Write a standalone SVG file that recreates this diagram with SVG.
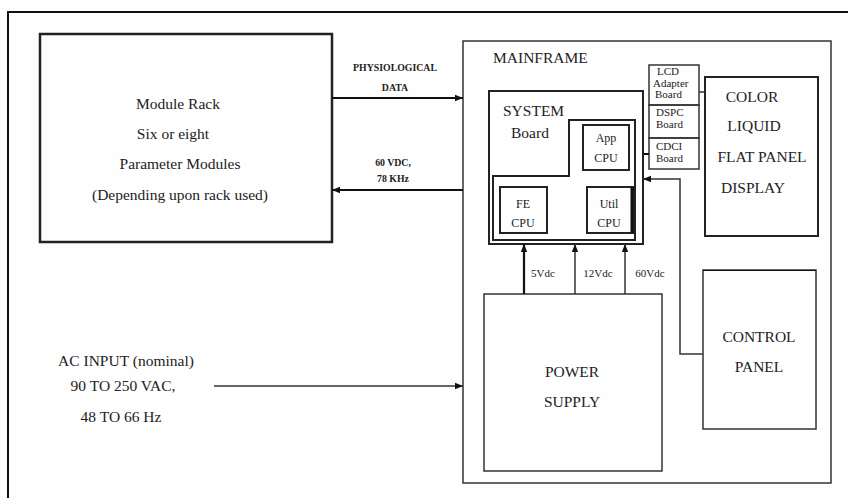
<svg xmlns="http://www.w3.org/2000/svg" width="848" height="498" viewBox="0 0 848 498">
<defs>
<style>
text{font-family:"Liberation Serif","Times New Roman",serif;fill:#222;}
.big{font-size:15.5px;}
.mid{font-size:12px;}
.sm{font-size:11px;}
.lbl{font-size:9.8px;font-weight:bold;}
.box{fill:none;stroke:#333;stroke-width:1.5;}
.thick{fill:none;stroke:#222;stroke-width:2.5;}
.med{fill:none;stroke:#222;stroke-width:2;}
.ln{fill:none;stroke:#333;stroke-width:1.5;}
</style>
<marker id="ah" viewBox="0 0 10 10" refX="10" refY="5" markerWidth="8" markerHeight="8" markerUnits="userSpaceOnUse" orient="auto">
<path d="M0,1 L10,5 L0,9 Z" fill="#111"/>
</marker>
</defs>
<rect width="848" height="498" fill="#fefefe"/>
<path d="M8,498 V12 H848" fill="none" stroke="#111" stroke-width="2"/>

<g id="module-rack">
<rect class="thick" x="40" y="34" width="292" height="208"/>
<text class="big" x="178" y="109" text-anchor="middle">Module Rack</text>
<text class="big" x="173" y="139" text-anchor="middle">Six or eight</text>
<text class="big" x="180" y="169" text-anchor="middle">Parameter Modules</text>
<text class="big" x="180" y="200" text-anchor="middle">(Depending upon rack used)</text>
</g>

<g id="mainframe">
<rect class="box" x="463" y="41" width="368" height="442"/>
<text class="big" x="493" y="63">MAINFRAME</text>
</g>

<g id="system-board">
<rect class="med" x="489" y="91" width="154" height="153"/>
<path class="med" d="M493,176 H569 V120 H635 V240 H493 Z"/>
<text class="big" x="503" y="116">SYSTEM</text>
<text class="big" x="511" y="138">Board</text>
</g>

<g id="app-cpu">
<rect class="med" x="583" y="125" width="46" height="45"/>
<text class="mid" x="606" y="142" text-anchor="middle">App</text>
<text class="mid" x="606" y="162" text-anchor="middle">CPU</text>
</g>

<g id="fe-cpu">
<rect class="med" x="500" y="187" width="47" height="46"/>
<text class="mid" x="523" y="208" text-anchor="middle">FE</text>
<text class="mid" x="523" y="227" text-anchor="middle">CPU</text>
</g>

<g id="util-cpu">
<rect class="med" x="587" y="187" width="46" height="46"/>
<line x1="632" y1="187" x2="632" y2="233" stroke="#111" stroke-width="3"/>
<text class="mid" x="609" y="208" text-anchor="middle">Util</text>
<text class="mid" x="609" y="227" text-anchor="middle">CPU</text>
</g>

<g id="lcd-adapter">
<rect class="box" x="649" y="65" width="50" height="40"/>
<text class="sm" x="657" y="75">LCD</text>
<text class="sm" x="653" y="87">Adapter</text>
<text class="sm" x="655" y="98">Board</text>
</g>

<g id="dspc-board">
<rect class="box" x="649" y="105" width="50" height="33"/>
<text class="sm" x="656" y="116">DSPC</text>
<text class="sm" x="656" y="128">Board</text>
</g>

<g id="cdci-board">
<rect class="box" x="649" y="138" width="50" height="31"/>
<text class="sm" x="656" y="150">CDCI</text>
<text class="sm" x="656" y="162">Board</text>
</g>

<g id="display">
<rect class="med" x="705" y="77" width="113" height="159"/>
<text class="big" x="752" y="102" text-anchor="middle">COLOR</text>
<text class="big" x="754" y="131" text-anchor="middle">LIQUID</text>
<text class="big" x="762" y="162" text-anchor="middle">FLAT PANEL</text>
<text class="big" x="753" y="193" text-anchor="middle">DISPLAY</text>
</g>

<g id="power-supply">
<rect class="box" x="484" y="294" width="178" height="177"/>
<text class="big" x="572" y="377" text-anchor="middle">POWER</text>
<text class="big" x="572" y="407" text-anchor="middle">SUPPLY</text>
</g>

<g id="control-panel">
<rect class="box" x="703" y="270" width="113" height="159"/>
<line x1="703" y1="270.5" x2="816" y2="270.5" stroke="#111" stroke-width="1"/>
<text class="big" x="759" y="342" text-anchor="middle">CONTROL</text>
<text class="big" x="759" y="372" text-anchor="middle">PANEL</text>
</g>

<g id="ac-input">
<text class="big" x="126" y="366" text-anchor="middle">AC INPUT (nominal)</text>
<text class="big" x="123" y="391" text-anchor="middle">90 TO 250 VAC,</text>
<text class="big" x="121" y="422" text-anchor="middle">48 TO 66 Hz</text>
</g>

<g id="connectors">
<line x1="332" y1="98" x2="463" y2="98" stroke="#111" stroke-width="2" marker-end="url(#ah)"/>
<text class="lbl" x="395" y="71" text-anchor="middle">PHYSIOLOGICAL</text>
<text class="lbl" x="395" y="91" text-anchor="middle">DATA</text>
<line x1="463" y1="190" x2="332" y2="190" stroke="#111" stroke-width="2" marker-end="url(#ah)"/>
<text class="lbl" x="393" y="166" text-anchor="middle">60 VDC,</text>
<text class="lbl" x="393" y="182" text-anchor="middle">78 KHz</text>
<line x1="214" y1="386" x2="463" y2="386" stroke="#333" stroke-width="1.5" marker-end="url(#ah)"/>
<line x1="524" y1="294" x2="524" y2="244" stroke="#111" stroke-width="2.2" marker-end="url(#ah)"/>
<line x1="575" y1="294" x2="575" y2="244" stroke="#333" stroke-width="1.5" marker-end="url(#ah)"/>
<line x1="625" y1="294" x2="625" y2="244" stroke="#333" stroke-width="1.5" marker-end="url(#ah)"/>
<text class="lbl" x="543" y="277" text-anchor="middle" style="font-weight:normal;font-size:11px">5Vdc</text>
<text class="lbl" x="598" y="277" text-anchor="middle" style="font-weight:normal;font-size:11px">12Vdc</text>
<text class="lbl" x="650" y="277" text-anchor="middle" style="font-weight:normal;font-size:11px">60Vdc</text>
<line x1="699" y1="92" x2="705" y2="92" stroke="#333" stroke-width="1.5"/>
<line x1="643" y1="154" x2="649" y2="154" stroke="#111" stroke-width="2"/>
<polyline points="703,354 680,354 680,179 643,179" fill="none" stroke="#333" stroke-width="1.5" marker-end="url(#ah)"/>
</g>
</svg>
